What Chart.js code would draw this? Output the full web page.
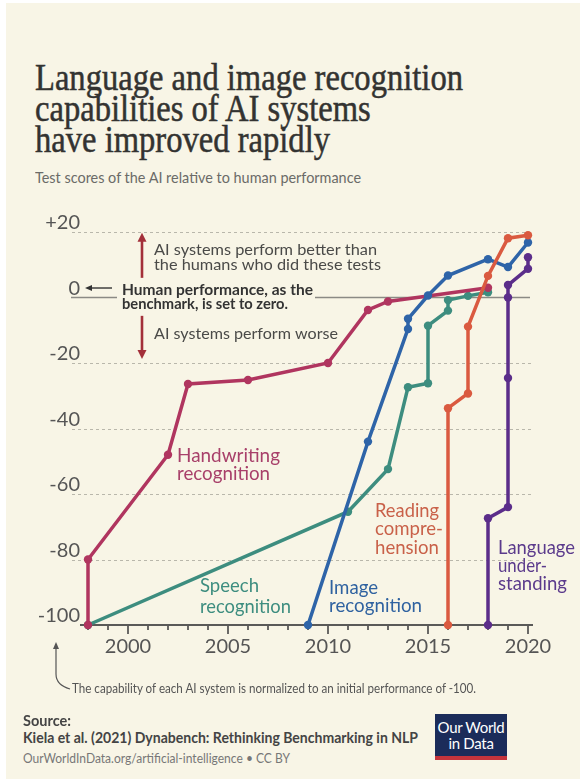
<!DOCTYPE html>
<html>
<head>
<meta charset="utf-8">
<script src="https://cdn.jsdelivr.net/npm/chart.js@4.4.1/dist/chart.umd.min.js"></script>
<style>
  body { margin: 0; background: #fff; width: 586px; height: 782px; overflow: hidden; }
  #page { position: absolute; left: 6px; top: 3px; width: 574px; height: 776px; background: #f8f5e6; }
  .t { position: absolute; white-space: nowrap; font-family: Lato, sans-serif; }
  #titulo { left: 35px; top: 62px; font-family: "Liberation Serif", serif; font-size: 37px; line-height: 31px; color: #333331; -webkit-text-stroke: 0.5px #333331; }
  #subtitulo { left: 35px; top: 168px; font-size: 15px; line-height: 18px; color: #6b6b68; }
  #nota { left: 72px; top: 680px; font-size: 14px; line-height: 16.8px; color: #555; }
  #fuente1 { left: 23px; top: 712px; font-size: 14.5px; line-height: 17.4px; font-weight: bold; color: #444; }
  #fuente2 { left: 23px; top: 729px; font-size: 14.5px; line-height: 17.4px; font-weight: bold; color: #444; }
  #fuente3 { left: 23px; top: 750px; font-size: 13.5px; line-height: 16.2px; color: #777; }
  #logo { position: absolute; left: 435px; top: 714px; width: 72px; height: 37px; padding-top: 5px; background: #1b2c5a; border-bottom: 4px solid #c4343c;
          color: #fff; font-family: Lato, sans-serif; font-size: 15px; line-height: 16px; text-align: center; white-space: nowrap; letter-spacing: -0.3px; }
  #grafico { position: absolute; left: 0; top: 200px; }
  #curva { position: absolute; left: 0; top: 630px; }
</style>
</head>
<body>
<div id="page"></div>
<div class="t" id="titulo" data-w="428">Language and image recognition<br>capabilities of AI systems<br>have improved rapidly</div>
<div class="t" id="subtitulo" data-w="326">Test scores of the AI relative to human performance</div>
<canvas id="grafico" width="586" height="462"></canvas>
<svg id="curva" width="100" height="70">
  <path d="M70 59 Q56 55 56 44 L56 17" fill="none" stroke="#555" stroke-width="1.2"/>
  <path d="M56 12 L53 19 L59 19 Z" fill="#555"/>
</svg>
<div class="t" id="nota" data-w="404">The capability of each AI system is normalized to an initial performance of -100.</div>
<div class="t" id="fuente1">Source:</div>
<div class="t" id="fuente2" data-w="395">Kiela et al. (2021) Dynabench: Rethinking Benchmarking in NLP</div>
<div class="t" id="fuente3" data-w="267">OurWorldInData.org/artificial-intelligence • CC BY</div>
<div id="logo">Our World<br>in Data</div>
<script>
// datos
const handwritingYears = [1998, 1998, 2002, 2003, 2006, 2010, 2012, 2013, 2018];
const handwritingScores = [-100, -80, -48, -26.4, -25.2, -20, -3.8, -1.2, 3];
const speechYears = [1998, 2011, 2013, 2014, 2015, 2015, 2016, 2016, 2017, 2018];
const speechScores = [-100, -65.4, -52.4, -27.4, -26.2, -8.6, -4, -0.8, 0.5, 1.6];
const imageYears = [2009, 2012, 2014, 2014, 2015, 2016, 2018, 2019, 2020];
const imageScores = [-100, -44, -9.6, -6.5, 0.6, 6.7, 11.7, 9.3, 16.8];
const readingYears = [2016, 2016, 2017, 2017, 2018, 2019, 2020];
const readingScores = [-100, -33.8, -29.3, -8.9, 6.6, 18.1, 19];
const languageYears = [2018, 2018, 2019, 2019, 2019, 2019, 2020, 2020];
const languageScores = [-100, -67.4, -64, -24.6, 0, 3.8, 8.8, 12.3];

const yTicks = [20, 0, -20, -40, -60, -80, -100];
const xLabels = [2000, 2005, 2010, 2015, 2020];

const colores = {
    handwriting: '#b0355f',
    speech: '#3d8d7f',
    image: '#2e64a8',
    reading: '#da5a40',
    language: '#5b2d8a'
};

// ajustar ancho de los textos
document.querySelectorAll('[data-w]').forEach(el => {
    const w = el.getBoundingClientRect().width;
    el.style.transformOrigin = 'left top';
    el.style.transform = `scaleX(${el.dataset.w / w})`;
});

function puntos(anios, valores){
    return anios.map((a, i) => ({ x: a, y: valores[i] }));
}

function serie(nombre, anios, valores){
    return {
        label: nombre,
        data: puntos(anios, valores),
        borderColor: colores[nombre],
        backgroundColor: colores[nombre],
        pointBackgroundColor: colores[nombre],
        pointBorderWidth: 0,
        pointRadius: 4.2,
        borderWidth: 3.5,
        tension: 0,
        clip: false
    };
}

function flecha(ctx, x1, y1, x2, y2, cabeza, ancho){
    const ang = Math.atan2(y2 - y1, x2 - x1);
    ctx.beginPath();
    ctx.moveTo(x1, y1);
    ctx.lineTo(x2 - Math.cos(ang) * cabeza * 0.8, y2 - Math.sin(ang) * cabeza * 0.8);
    ctx.stroke();
    ctx.beginPath();
    ctx.moveTo(x2, y2);
    ctx.lineTo(x2 - Math.cos(ang) * cabeza + Math.sin(ang) * ancho, y2 - Math.sin(ang) * cabeza - Math.cos(ang) * ancho);
    ctx.lineTo(x2 - Math.cos(ang) * cabeza - Math.sin(ang) * ancho, y2 - Math.sin(ang) * cabeza + Math.cos(ang) * ancho);
    ctx.closePath();
    ctx.fill();
}

// lineas = [[texto, ancho], ...], cada linea estirada a su ancho
function textos(ctx, lineas, x, y, alto){
    lineas.forEach(([t, w], i) => {
        const s = w / ctx.measureText(t).width;
        ctx.save();
        ctx.translate(x, y + i * alto);
        ctx.scale(s, 1);
        ctx.fillText(t, 0, 0);
        ctx.restore();
    });
}

const fondo = {
    id: 'fondo',
    beforeDatasetsDraw(chart){
        const ctx = chart.ctx;
        const xs = chart.scales.x, ys = chart.scales.y;
        const izq = chart.chartArea.left, der = chart.chartArea.right;
        ctx.save();
        // lineas punteadas
        ctx.strokeStyle = '#b9b7ab';
        ctx.lineWidth = 1;
        ctx.setLineDash([3, 3]);
        yTicks.forEach(v => {
            if(v === 0 || v === -100) return;
            const py = Math.round(ys.getPixelForValue(v)) + 0.5;
            ctx.beginPath(); ctx.moveTo(izq - 10, py); ctx.lineTo(der - 3, py); ctx.stroke();
        });
        ctx.setLineDash([]);
        // linea de cero, cortada por el texto
        const y0 = ys.getPixelForValue(0);
        ctx.strokeStyle = '#8b8a85';
        ctx.lineWidth = 1.6;
        ctx.beginPath(); ctx.moveTo(izq - 11, y0); ctx.lineTo(xs.getPixelForValue(1999.45), y0); ctx.stroke();
        ctx.beginPath(); ctx.moveTo(xs.getPixelForValue(2009.35), y0); ctx.lineTo(der - 4, y0); ctx.stroke();
        // eje x con marcas
        const yb = ys.getPixelForValue(-100);
        ctx.strokeStyle = '#5a5a58';
        ctx.lineWidth = 2;
        ctx.beginPath(); ctx.moveTo(izq - 2, yb); ctx.lineTo(der - 1, yb); ctx.stroke();
        ctx.lineWidth = 1.8;
        for(let a = 1998; a <= 2020; a++){
            const px = xs.getPixelForValue(a);
            ctx.beginPath(); ctx.moveTo(px, yb); ctx.lineTo(px, yb + (a % 5 === 0 ? 9 : 5)); ctx.stroke();
        }
        ctx.restore();
    },
    afterDatasetsDraw(chart){
        const ctx = chart.ctx;
        const xs = chart.scales.x, ys = chart.scales.y;
        const X = a => xs.getPixelForValue(a);
        const Y = v => ys.getPixelForValue(v);
        ctx.save();
        ctx.textBaseline = 'middle';
        ctx.textAlign = 'left';

        // flechas rojas
        ctx.strokeStyle = '#a3303a';
        ctx.fillStyle = '#a3303a';
        ctx.lineWidth = 2.6;
        flecha(ctx, X(2000.7), Y(6), X(2000.7), Y(19.8), 9, 4.5);
        flecha(ctx, X(2000.7), Y(-5.6), X(2000.7), Y(-18.8), 9, 4.5);

        // flecha hacia el cero
        ctx.strokeStyle = '#333';
        ctx.fillStyle = '#333';
        ctx.lineWidth = 1.4;
        flecha(ctx, X(1999.2), Y(2.9), X(1997.85), Y(2.9), 7, 3);

        ctx.fillStyle = '#4a4a48';
        ctx.font = '16px Lato';
        textos(ctx, [['AI systems perform better than', 223], ['the humans who did these tests', 227]], X(2001.3), Y(14.6), 15);
        textos(ctx, [['AI systems perform worse', 184]], X(2001.3), Y(-11.1), 0);
        ctx.fillStyle = '#333';
        ctx.font = 'bold 16px Lato';
        textos(ctx, [['Human performance, as the', 191], ['benchmark, is set to zero.', 166]], X(1999.7), Y(2.35), 14);

        // etiquetas de series
        ctx.font = '19px Lato';
        ctx.fillStyle = '#a8406a';
        textos(ctx, [['Handwriting', 103], ['recognition', 93]], X(2002.45), Y(-48.3), 18);
        ctx.fillStyle = '#3d8d7f';
        textos(ctx, [['Speech', 59], ['recognition', 91]], X(2003.6), Y(-88), 21);
        ctx.fillStyle = '#2f62a0';
        textos(ctx, [['Image', 49], ['recognition', 93]], X(2010.05), Y(-88.6), 18);
        ctx.fillStyle = '#c96149';
        textos(ctx, [['Reading', 64], ['compre-', 68], ['hension', 64]], X(2012.35), Y(-65.1), 18.5);
        ctx.fillStyle = '#5b3a8c';
        textos(ctx, [['Language', 77], ['under-', 49], ['standing', 69]], X(2018.5), Y(-76.4), 18);
        ctx.restore();
    }
};

const canvas = document.getElementById('grafico');
canvas.style.width = '586px';
canvas.style.height = '462px';

new Chart(canvas, {
    type: 'line',
    data: {
        datasets: [
            serie('language', languageYears, languageScores),
            serie('reading', readingYears, readingScores),
            serie('image', imageYears, imageScores),
            serie('handwriting', handwritingYears, handwritingScores),
            serie('speech', speechYears, speechScores)
        ]
    },
    options: {
        responsive: false,
        devicePixelRatio: 1,
        animation: false,
        layout: { padding: { top: 32, right: 52, left: 0, bottom: 0 } },
        plugins: { legend: { display: false }, tooltip: { enabled: false } },
        scales: {
            x: {
                type: 'linear',
                min: 1997.7,
                max: 2020.3,
                afterFit: s => { s.height = 37 },
                grid: { display: false, drawTicks: false },
                border: { display: false },
                ticks: {
                    stepSize: 1,
                    includeBounds: false,
                    autoSkip: false,
                    maxRotation: 0,
                    padding: 10,
                    color: '#555',
                    font: { family: 'Lato', size: 20 },
                    callback: v => xLabels.includes(v) ? String(v) : ''
                }
            },
            y: {
                min: -100,
                max: 20,
                afterFit: s => { s.width = 82 },
                afterBuildTicks: s => { s.ticks = yTicks.map(v => ({ value: v })) },
                grid: { display: false, drawTicks: false },
                border: { display: false },
                ticks: {
                    padding: 2,
                    labelOffset: -9,
                    color: '#555',
                    font: { family: 'Lato', size: 20 },
                    callback: v => v > 0 ? '+' + v : String(v)
                }
            }
        }
    },
    plugins: [fondo]
});
</script>
</body>
</html>
